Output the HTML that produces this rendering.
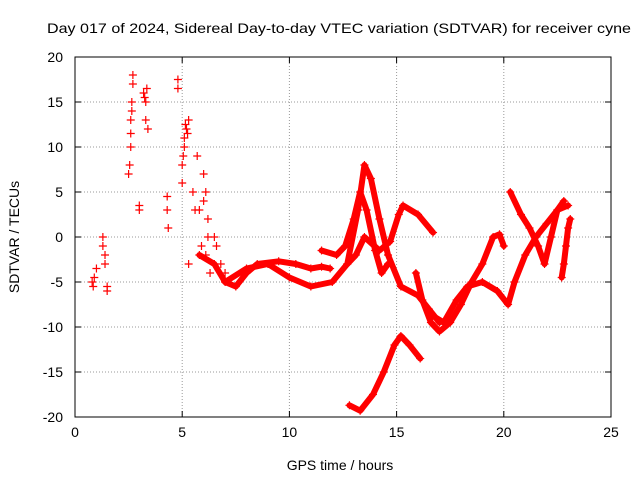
<!DOCTYPE html>
<html><head><meta charset="utf-8"><style>
body{margin:0;background:#fff;}
svg{display:block;font-family:"Liberation Sans",sans-serif;}
</style></head><body>
<svg id="chart" width="640" height="480"></svg>
<script>
const xTicks=[0,5,10,15,20,25];
const yTicks=[-20,-15,-10,-5,0,5,10,15,20];
const scatterT=[0.8,0.85,0.9,1.0,1.3,1.3,1.4,1.4,1.5,1.5,2.5,2.55,2.6,2.6,2.65,2.7,2.7,3.0,3.0,3.2,3.3,3.3,3.4,3.35,4.3,4.3,4.35,4.8,4.8,5.0,5.0,5.1,5.2,5.3,5.1,5.3,5.5,5.6,5.7,5.8,5.9,6.0,6.1,6.2,6.1,6.3,6.5,6.6,6.8,7.0,2.6,2.65,3.25,5.05,5.15,5.25,6.0,6.2];
const scatterV=[-5,-5.5,-4.5,-3.5,-1,0,-2,-3,-5.5,-6,7,8,10,13,15,17,18,3.5,3,16,15,13,12,16.5,4.5,3,1,17.5,16.5,6,8,10,12,13,11,-3,5,3,9,3,-1,7,5,2,-2,-4,0,-1,-3,-4,11.5,14,15.5,9,12.5,11.5,4,0];
const trackA_T=[5.8,6.5,7,7.5,8,8.5,9.5,10.3,11,11.5,11.9];
const trackA_V=[-2,-3,-5,-5.5,-4,-3,-2.7,-3,-3.5,-3.3,-3.5];
const trackB_T=[7,8,9,10,11,12,12.7,13.2,13.5,13.8,14.2,14.6,15.2,16,16.5,17];
const trackB_V=[-5,-3.5,-3,-4.5,-5.5,-5,-3,3,8,6.5,2,-2,-5.5,-6.5,-8,-9.5];
const trackC_T=[11.5,12.2,12.6,13.0,13.3,13.6,14.0,14.3,14.6];
const trackC_V=[-1.5,-2,-1,2,5,3,-1.5,-4,-3];
const trackD_T=[12.7,13.1,13.5,14.2,14.7,15.1,15.3,16,16.7];
const trackD_V=[-3,-2,0,-1.5,-0.5,2.5,3.5,2.5,0.5];
const trackE_T=[12.8,13.3,13.9,14.4,14.9,15.2,15.6,16.1];
const trackE_V=[-18.7,-19.3,-17.5,-15,-12,-11,-12,-13.5];
const trackF_T=[15.9,16.2,16.6,17,17.5,18,18.5,19,19.5,19.8,20];
const trackF_V=[-4,-7,-9.5,-10.5,-9.5,-7.5,-5,-3,0,0.3,-1];
const trackG_T=[16.5,17.2,17.8,18.3,19,19.7,20.2,20.5,21,21.5,22,22.5,23];
const trackG_V=[-8.5,-9.5,-7,-5.5,-5,-6,-7.5,-5,-2,0,1.5,3,3.5];
const trackH_T=[20.3,20.8,21.2,21.6,21.9,22.2,22.5,22.8];
const trackH_V=[5,2.5,1,-1,-3,0,3,4];
const trackI_T=[22.7,22.8,22.9,23,23.1];
const trackI_V=[-4.5,-3,-1,1,2];
const tracks=[[trackA_T,trackA_V,'track-a'],[trackB_T,trackB_V,'track-b'],[trackC_T,trackC_V,'track-c'],[trackD_T,trackD_V,'track-d'],[trackE_T,trackE_V,'track-e'],[trackF_T,trackF_V,'track-f'],[trackG_T,trackG_V,'track-g'],[trackH_T,trackH_V,'track-h'],[trackI_T,trackI_V,'track-i']];
const L=75,R=611,T=57,B=417;
const xs=t=>L+(t-0)/25*(R-L);
const ys=v=>B-(v+20)/40*(B-T);
const svg=document.getElementById('chart');
const NS='http://www.w3.org/2000/svg';
function mk(tag,at,txt){const e=document.createElementNS(NS,tag);for(const k in at)e.setAttribute(k,at[k]);if(txt!==undefined)e.textContent=txt;svg.appendChild(e);return e;}
let e;
e=mk('rect',{x:L,y:T,width:R-L,height:B-T,fill:'none',stroke:'#000','stroke-width':1});


xTicks.forEach(t=>{const x=xs(t);
 if(t>0&&t<25){e=mk('line',{x1:x,y1:T,x2:x,y2:B,stroke:'#999','stroke-dasharray':'1,2'});
 
 }
 mk('line',{x1:x,y1:B,x2:x,y2:B-6,stroke:'#000'});mk('line',{x1:x,y1:T,x2:x,y2:T+6,stroke:'#000'});
 e=mk('text',{x:x,y:B+20,'text-anchor':'middle','font-size':14},t);
 
 
});
yTicks.forEach(v=>{const y=ys(v);
 if(v>-20&&v<20){e=mk('line',{x1:L,y1:y,x2:R,y2:y,stroke:'#999','stroke-dasharray':'1,2'});
 
 }
 mk('line',{x1:L,y1:y,x2:L+6,y2:y,stroke:'#000'});mk('line',{x1:R,y1:y,x2:R-6,y2:y,stroke:'#000'});
 e=mk('text',{x:L-12,y:y+5,'text-anchor':'end','font-size':14},v);
 
 
});
e=mk('text',{x:47,y:33,'font-size':14,textLength:584,lengthAdjust:'spacingAndGlyphs'},'Day 017 of 2024, Sidereal Day-to-day VTEC variation (SDTVAR) for receiver cyne');


e=mk('text',{x:340,y:470,'text-anchor':'middle','font-size':14},'GPS time / hours');


e=mk('text',{x:0,y:0,'text-anchor':'middle','font-size':14,transform:'translate(19,237) rotate(-90)'},'SDTVAR / TECUs');


function plus(x,y,name){e=mk('path',{d:`M${x-4},${y}h8M${x},${y-4}v8`,stroke:'#f00','stroke-width':1.2});
 
 }
scatterT.forEach((t,i)=>plus(xs(t),ys(scatterV[i]),'scatter-point'));
tracks.forEach(([tt,vv,nm])=>{
 const pts=tt.map((t,i)=>xs(t)+','+ys(vv[i])).join(' ');
 e=mk('polyline',{points:pts,fill:'none',stroke:'#f00','stroke-width':6,'stroke-linejoin':'round','stroke-linecap':'round'});
 
 
 tt.forEach((t,i)=>plus(xs(t),ys(vv[i]),nm+'-point'));
});
</script>
</body></html>
